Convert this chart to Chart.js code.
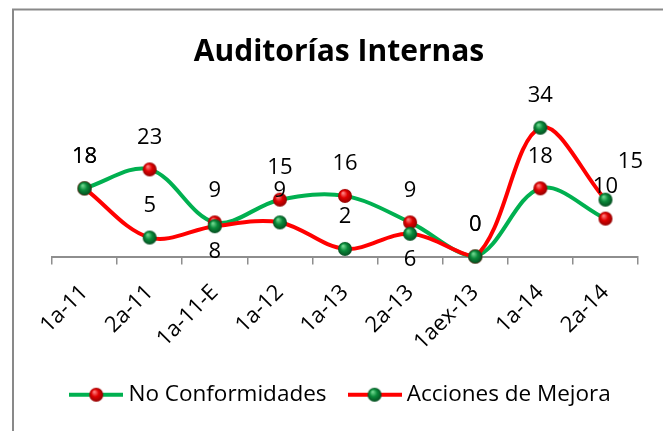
<!DOCTYPE html>
<html>
<head>
<meta charset="utf-8">
<script src="https://cdn.jsdelivr.net/npm/chart.js@4.4.1/dist/chart.umd.min.js"></script>
<style>
  html, body { margin: 0; padding: 0; background: #fff; }
  #wrap { width: 663px; height: 431px; }
</style>
</head>
<body>
<div id="wrap"><canvas id="auditChart" width="663" height="431"></canvas></div>
<script>
const categories = ["1a-11", "2a-11", "1a-11-E", "1a-12", "1a-13", "2a-13", "1aex-13", "1a-14", "2a-14"];
const noConformidades = [18, 23, 9, 15, 16, 9, 0, 18, 10];
const accionesMejora = [18, 5, 8, 9, 2, 6, 0, 34, 15];

// where each value label sits relative to its marker
const labelPosNC = ["top", "top", "top", "top", "top", "top", "top", "top", "top"];
const labelPosAM = ["top", "top", "bottom", "top", "top", "bottom", "top", "top", "topRight"];

const GREEN = "#00b050";
const RED = "#ff0000";
const FONT = "'Open Sans', 'Noto Sans', sans-serif";

// little shaded balls like the excel markers
function makeBall(base, light, dark) {
  const c = document.createElement("canvas");
  c.width = 16;
  c.height = 16;
  const ctx = c.getContext("2d");
  const g = ctx.createRadialGradient(6, 5, 0.5, 8, 8, 7.5);
  g.addColorStop(0, light);
  g.addColorStop(0.45, base);
  g.addColorStop(1, dark);
  ctx.fillStyle = g;
  ctx.beginPath();
  ctx.arc(8, 8, 7, 0, Math.PI * 2);
  ctx.fill();
  return c;
}

function makeLegendSymbol(lineColor, ball) {
  const c = document.createElement("canvas");
  c.width = 54;
  c.height = 16;
  const ctx = c.getContext("2d");
  ctx.strokeStyle = lineColor;
  ctx.lineWidth = 4;
  ctx.beginPath();
  ctx.moveTo(0, 8);
  ctx.lineTo(54, 8);
  ctx.stroke();
  ctx.drawImage(ball, 19, 0);
  return c;
}

const redBall = makeBall("#e00000", "#ff8080", "#8a0000");
const greenBall = makeBall("#0a8a3a", "#70d890", "#03461c");
const legendSymbols = [
  makeLegendSymbol(GREEN, redBall),
  makeLegendSymbol(RED, greenBall),
];

const framePlugin = {
  id: "frame",
  beforeDraw(chart) {
    const ctx = chart.ctx;
    ctx.save();
    ctx.fillStyle = "#fff";
    ctx.fillRect(0, 0, chart.width, chart.height);
    ctx.strokeStyle = "#898989";
    ctx.lineWidth = 2;
    ctx.strokeRect(13, 9.5, 700, 500);
    ctx.restore();
  },
  afterLayout(chart) {
    // nudge the legend a little to the right, like the original
    chart.legend.left += 4;
    chart.legend.right += 4;
  },
};

const valueLabels = {
  id: "valueLabels",
  afterDatasetsDraw(chart) {
    const ctx = chart.ctx;
    ctx.save();
    ctx.font = "22px " + FONT;
    ctx.fillStyle = "#000";
    ctx.textAlign = "center";
    ctx.textBaseline = "middle";
    chart.data.datasets.forEach((ds, i) => {
      const meta = chart.getDatasetMeta(i);
      meta.data.forEach((pt, j) => {
        const pos = ds.labelPos[j];
        let dx = 0;
        let dy = -32;
        if (pos === "bottom") dy = 26;
        if (pos === "topRight") {
          dx = 25;
          dy = -38;
        }
        ctx.fillText(String(ds.data[j]), pt.x + dx, pt.y + dy);
      });
    });
    ctx.restore();
  },
};

const auditChart = new Chart(document.getElementById("auditChart"), {
  type: "line",
  data: {
    labels: categories,
    datasets: [
      {
        label: "No Conformidades",
        data: noConformidades,
        labelPos: labelPosNC,
        borderColor: GREEN,
        borderWidth: 4,
        tension: 0.35,
        pointStyle: redBall,
        pointRadius: 7,
        clip: false,
        order: 1,
      },
      {
        label: "Acciones de Mejora",
        data: accionesMejora,
        labelPos: labelPosAM,
        borderColor: RED,
        borderWidth: 4,
        tension: 0.35,
        pointStyle: greenBall,
        pointRadius: 7,
        clip: false,
        order: 0,
      },
    ],
  },
  options: {
    responsive: false,
    animation: false,
    layout: {
      padding: { left: 40, right: 25, top: 0, bottom: 15 },
    },
    plugins: {
      title: {
        display: true,
        text: "Auditorías Internas",
        color: "#000",
        font: { family: FONT, size: 30, weight: "bold" },
        padding: { top: 34, bottom: 35 },
      },
      legend: {
        position: "bottom",
        labels: {
          usePointStyle: true,
          pointStyleWidth: 42,
          padding: 27,
          color: "#000",
          font: { family: FONT, size: 22.5 },
          generateLabels: (chart) =>
            chart.data.datasets.map((ds, i) => ({
              text: ds.label,
              pointStyle: legendSymbols[i],
              fillStyle: "transparent",
              strokeStyle: "transparent",
              lineWidth: 0,
              hidden: false,
              datasetIndex: i,
              fontColor: "#000",
            })),
        },
      },
      tooltip: { enabled: false },
    },
    scales: {
      x: {
        offset: true,
        grid: {
          offset: true,
          drawOnChartArea: false,
          tickLength: 8,
          color: "#8e8e8e",
          lineWidth: 1.5,
        },
        border: { color: "#8e8e8e", width: 2 },
        ticks: {
          minRotation: 45,
          maxRotation: 45,
          padding: 15,
          color: "#000",
          font: { family: FONT, size: 22 },
        },
        afterFit: (scale) => {
          scale.height = 100;
        },
      },
      y: {
        min: 0,
        max: 40,
        grid: { display: false },
        border: { display: false },
        ticks: { display: false },
        afterFit: (scale) => {
          scale.width = 12;
        },
      },
    },
  },
  plugins: [framePlugin, valueLabels],
});
</script>
</body>
</html>
